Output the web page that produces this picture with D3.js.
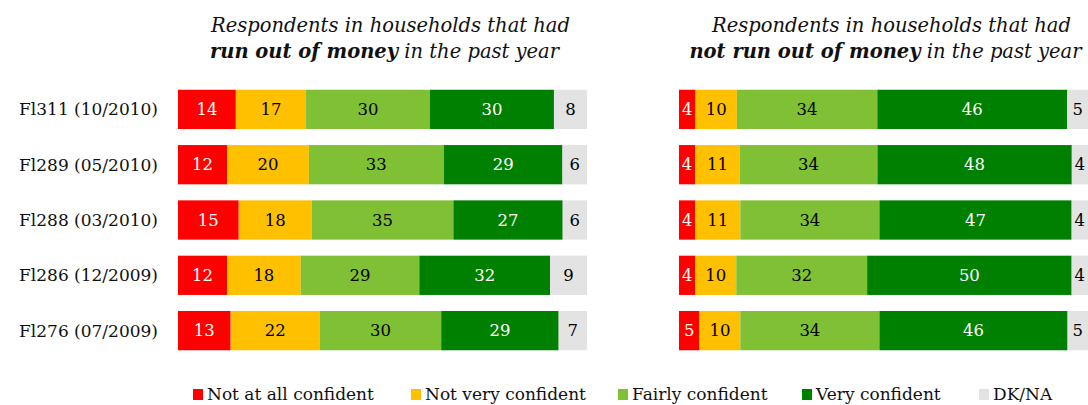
<!DOCTYPE html>
<html>
<head>
<meta charset="utf-8">
<script src="https://cdn.jsdelivr.net/npm/d3@7"></script>
<style>
  body { margin: 0; background: #fff; }
  svg text { font-family: Georgia, "DejaVu Serif", serif; }
</style>
</head>
<body>
<div id="chart"></div>
<script>
// 1: DATA
const surveys = ["Fl311 (10/2010)", "Fl289 (05/2010)", "Fl288 (03/2010)", "Fl286 (12/2009)", "Fl276 (07/2009)"];
const categories = ["Not at all confident", "Not very confident", "Fairly confident", "Very confident", "DK/NA"];
const colors = ["#ff0000", "#ffc000", "#80c034", "#008000", "#e3e3e3"];
const labelColors = ["#fff", "#000", "#000", "#fff", "#000"];

// rows: surveys, columns: categories
const ranOut = [
  [14, 17, 30, 30, 8],
  [12, 20, 33, 29, 6],
  [15, 18, 35, 27, 6],
  [12, 18, 29, 32, 9],
  [13, 22, 30, 29, 7]
];
const notRanOut = [
  [4, 10, 34, 46, 5],
  [4, 11, 34, 48, 4],
  [4, 11, 34, 47, 4],
  [4, 10, 32, 50, 4],
  [5, 10, 34, 46, 5]
];

// 2: GLOBALS
const W = 1088, H = 405;
const panelWidth = 409;
const panels = [
  { x0: 178, data: ranOut, title: ["Respondents in households that had", ["run out of money", " in the past year"]] },
  { x0: 679, data: notRanOut, title: ["Respondents in households that had", ["not run out of money", " in the past year"]] }
];

const svg = d3.select("#chart").append("svg")
  .attr("width", W)
  .attr("height", H);

const yScale = d3.scaleBand()
  .domain(surveys)
  .range([82, 358])
  .paddingInner(0.29)
  .paddingOuter(0.14);

// 3: ROW LABELS
svg.append("g").selectAll("text")
  .data(surveys)
  .enter()
  .append("text")
  .attr("x", 158)
  .attr("y", d => yScale(d) + yScale.bandwidth() / 2)
  .attr("dy", "0.35em")
  .attr("text-anchor", "end")
  .style("font-size", "17px")
  .attr("fill", "#111")
  .text(d => d);

// 4: PANELS
panels.forEach(p => {
  const xScale = d3.scaleLinear().domain([0, 1]).range([p.x0, p.x0 + panelWidth]);
  const g = svg.append("g");

  // title (two lines, second partly bold)
  const cx = p.x0 + panelWidth / 2;
  const title = g.append("text")
    .attr("text-anchor", "middle")
    .style("font-size", "19.5px")
    .style("font-style", "italic")
    .attr("fill", "#111");
  title.append("tspan").attr("x", cx + 8).attr("y", 32).text(p.title[0]);
  const l2 = title.append("tspan").attr("x", cx + 2).attr("y", 58);
  l2.append("tspan").style("font-weight", "bold").text(p.title[1][0]);
  l2.append("tspan").text(p.title[1][1]);

  p.data.forEach((row, i) => {
    const total = d3.sum(row);
    let acc = 0;
    const segs = row.map((v, j) => {
      const s = { v, j, start: acc / total, end: (acc + v) / total };
      acc += v;
      return s;
    });
    const rg = g.append("g").attr("transform", `translate(0, ${yScale(surveys[i])})`);
    rg.selectAll("rect")
      .data(segs)
      .enter()
      .append("rect")
      .attr("x", d => xScale(d.start))
      .attr("width", d => xScale(d.end) - xScale(d.start))
      .attr("height", yScale.bandwidth())
      .attr("fill", d => colors[d.j]);
    rg.selectAll("text")
      .data(segs)
      .enter()
      .append("text")
      .attr("x", d => (xScale(d.start) + xScale(d.end)) / 2)
      .attr("y", yScale.bandwidth() / 2)
      .attr("dy", "0.35em")
      .attr("text-anchor", "middle")
      .style("font-size", "16.5px")
      .attr("fill", d => labelColors[d.j])
      .text(d => d.v);
  });
});

// 5: LEGEND
const legendX = [193, 411, 618, 802, 979];
const legend = svg.append("g").selectAll("g")
  .data(categories)
  .enter()
  .append("g")
  .attr("transform", (d, i) => `translate(${legendX[i]}, 389)`);

legend.append("rect")
  .attr("width", 10)
  .attr("height", 11)
  .attr("fill", (d, i) => colors[i]);

legend.append("text")
  .attr("x", 14)
  .attr("y", 11)
  .style("font-size", "17px")
  .attr("fill", "#111")
  .text(d => d);
</script>
</body>
</html>
